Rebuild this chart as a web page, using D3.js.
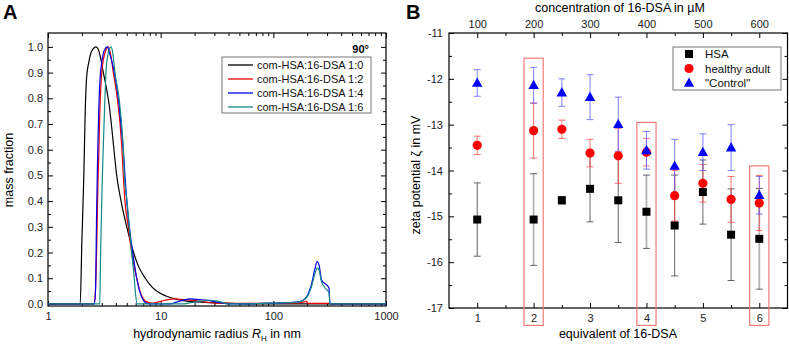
<!DOCTYPE html>
<html>
<head>
<meta charset="utf-8">
<script src="https://cdn.jsdelivr.net/npm/d3@7"></script>
<style>
  body { margin: 0; background: #fff; }
  svg { font-family: "Liberation Sans", Arial, sans-serif; }
  .tick text { font-size: 11px; fill: #222; }
</style>
</head>
<body>
<div class="vis"></div>
<script>
// ---------- panel A : mass fraction vs hydrodynamic radius ----------
const seriesNamesA = ["com-HSA:16-DSA 1:0", "com-HSA:16-DSA 1:2", "com-HSA:16-DSA 1:4", "com-HSA:16-DSA 1:6"];
const seriesColorsA = ["#000000", "#ee0000", "#0000ee", "#138a87"];

// [radius nm, mass fraction]
const curve10 = [[1,0],[1.93,0],[2.0,0.25],[2.08,0.5],[2.14,0.75],[2.2,0.88],[2.3,0.94],[2.42,0.98],[2.55,0.995],[2.67,1.0],
  [2.8,0.99],[2.95,0.95],[3.1,0.9],[3.3,0.84],[3.5,0.77],[3.65,0.7],[3.85,0.6],[4.07,0.5],[4.45,0.4],[5.0,0.3],
  [5.75,0.2],[6.3,0.15],[7.3,0.1],[8.2,0.07],[9.2,0.05],[11.3,0.03],[14,0.018],[17,0.011],[25,0.006],[40,0.003],[60,0],[1000,0]];
const curve12 = [[1,0],[2.55,0],[2.62,0.03],[2.7,0.2],[2.77,0.45],[2.83,0.6],[2.9,0.78],[3.0,0.9],[3.1,0.95],[3.25,0.985],
  [3.43,1.0],[3.6,0.97],[3.8,0.9],[3.97,0.85],[4.12,0.8],[4.36,0.7],[4.53,0.6],[4.66,0.5],[4.82,0.4],[5.16,0.3],
  [5.53,0.2],[6.13,0.1],[6.55,0.05],[7.4,0.01],[8.3,0.003],[9,0.005],[10,0.01],[13,0.02],[15,0.018],[18.5,0.015],
  [24.5,0.008],[32,0.003],[50,0.002],[100,0.002],[170,0.004],[197,0.01],[204,0.002],[318,0.002],[322,0],[1000,0]];
const curve14 = [[1,0],[2.58,0],[2.64,0.05],[2.7,0.35],[2.75,0.55],[2.82,0.75],[2.9,0.88],[3.0,0.94],[3.15,0.985],[3.36,1.0],
  [3.55,0.97],[3.75,0.93],[3.88,0.9],[4.21,0.8],[4.44,0.7],[4.66,0.6],[4.82,0.5],[5.0,0.4],[5.27,0.3],[5.65,0.2],
  [6.13,0.1],[6.5,0.05],[6.9,0.02],[7.4,0.003],[8,0],[12,0],[14,0.008],[16,0.015],[18.2,0.02],[22,0.017],
  [27,0.013],[33,0.006],[40,0],[80,0.002],[100,0.003],[150,0.006],[172,0.009],[197,0.028],[219,0.08],[235,0.14],
  [245,0.165],[255,0.15],[268,0.093],[285,0.08],[297,0.074],[312,0.062],[318,0],[1000,0]];
const curve16 = [[1,0],[2.88,0],[2.93,0.2],[3.0,0.4],[3.05,0.52],[3.1,0.62],[3.2,0.8],[3.27,0.9],[3.4,0.97],[3.62,1.0],
  [3.75,0.98],[3.93,0.9],[4.27,0.8],[4.5,0.7],[4.66,0.6],[4.76,0.5],[5.03,0.4],[5.27,0.3],[5.53,0.2],[5.83,0.1],
  [5.95,0.05],[6.2,0],[15.8,0],[18,0.004],[22,0.01],[26,0.015],[31,0.012],[36,0.005],[39,0],[80,0.002],
  [100,0.003],[150,0.006],[172,0.009],[197,0.025],[219,0.07],[235,0.12],[245,0.14],[255,0.13],[268,0.085],
  [285,0.065],[297,0.055],[312,0.045],[318,0],[1000,0]];
const curvesA = [curve10, curve12, curve14, curve16];

const yTicksA = [0, 0.1, 0.2, 0.3, 0.4, 0.5, 0.6, 0.7, 0.8, 0.9, 1.0];
const xTicksA = [1, 10, 100, 1000];

// ---------- panel B : zeta potential ----------
const equiv = [1, 2, 2.5, 3, 3.5, 4, 4.5, 5, 5.5, 6];
const hsaZeta = [-15.07, -15.07, -14.65, -14.4, -14.65, -14.9, -15.2, -14.47, -15.4, -15.49];
const hsaErr = [0.8, 1.0, 0.08, 0.72, 0.92, 0.8, 1.1, 0.7, 1.0, 1.1];
const adultZeta = [-13.45, -13.13, -13.1, -13.62, -13.68, -13.6, -14.55, -14.28, -14.63, -14.71];
const adultErr = [0.2, 0.6, 0.2, 0.3, 0.6, 0.3, 0.55, 0.41, 0.5, 0.6];
const controlZeta = [-12.09, -12.14, -12.3, -12.4, -12.99, -13.56, -13.9, -13.6, -13.5, -14.54];
const controlErr = [0.29, 0.39, 0.3, 0.49, 0.59, 0.41, 0.58, 0.4, 0.5, 0.41];
const seriesNamesB = ["HSA", "healthy adult", "\"Control\""];
const concTicks = [100, 200, 300, 400, 500, 600];
const yTicksB = [-17, -16, -15, -14, -13, -12, -11];
const boxEquiv = [2, 4, 6];
const boxTop = [-11.55, -12.95, -13.9];

const W = 789, H = 346;
const svg = d3.select(".vis").append("svg").attr("width", W).attr("height", H);

// ================= panel A =================
const xA = d3.scaleLog().domain([1, 1000]).range([48, 386]);
const yA = d3.scaleLinear().domain([-0.008, 1.054]).range([306, 33]);

const gA = svg.append("g");
const minorLog = [];
[1, 10, 100].forEach(d => { for (let k = 2; k <= 9; k++) minorLog.push(d * k); });
const minorYA = yTicksA.slice(0, -1).map(v => v + 0.05);

function axisPair(g, axisFn, scale, major, minor, fmt, pos, pad) {
  g.append("g").attr("transform", pos)
    .call(axisFn(scale).tickValues(major).tickSize(-5).tickPadding(pad).tickFormat(fmt));
  g.append("g").attr("transform", pos)
    .call(axisFn(scale).tickValues(minor).tickSize(-3).tickFormat(""));
}

axisPair(gA, d3.axisBottom, xA, xTicksA, minorLog, d3.format("d"), "translate(0,306)", 6);
axisPair(gA, d3.axisTop, xA, xTicksA, minorLog, "", "translate(0,33)", 3);
axisPair(gA, d3.axisLeft, yA, yTicksA, minorYA, d3.format(".1f"), "translate(48,0)", 5);
axisPair(gA, d3.axisRight, yA, yTicksA, minorYA, "", "translate(386,0)", 3);
gA.selectAll(".domain").remove();
gA.append("rect").attr("x", 48).attr("y", 33).attr("width", 338).attr("height", 273)
  .attr("fill", "none").attr("stroke", "#000").attr("stroke-width", 1.2);

const lineA = d3.line().x(d => xA(d[0])).y(d => yA(d[1])).curve(d3.curveMonotoneX);
gA.append("g")
  .selectAll("path").data(curvesA).enter().append("path")
  .attr("d", lineA)
  .attr("fill", "none")
  .attr("stroke", (d, i) => seriesColorsA[i])
  .attr("stroke-width", 1.2);

// legend A
gA.append("text").attr("x", 369).attr("y", 53).attr("text-anchor", "end")
  .attr("font-size", 11).attr("font-weight", "bold").text("90°");
gA.append("rect").attr("x", 222).attr("y", 57).attr("width", 149).attr("height", 56)
  .attr("fill", "#fff").attr("stroke", "#777").attr("stroke-width", 1);
const legA = gA.selectAll(".legA").data(seriesNamesA).enter().append("g")
  .attr("transform", (d, i) => `translate(0,${65 + i * 14})`);
legA.append("line").attr("x1", 228).attr("x2", 253).attr("y1", 0).attr("y2", 0)
  .attr("stroke", (d, i) => seriesColorsA[i]).attr("stroke-width", 1.3);
legA.append("text").attr("x", 257).attr("y", 4).attr("font-size", 11).attr("fill", "#111").text(d => d);

// titles A
svg.append("text").attr("x", 3).attr("y", 19).attr("font-size", 20).attr("font-weight", "bold").text("A");
svg.append("text").attr("transform", "translate(13,170) rotate(-90)").attr("text-anchor", "middle")
  .attr("font-size", 12.5).text("mass fraction");
const xt = svg.append("text").attr("x", 217).attr("y", 338).attr("text-anchor", "middle").attr("font-size", 12.5);
xt.append("tspan").text("hydrodynamic radius ");
xt.append("tspan").attr("font-style", "italic").text("R");
xt.append("tspan").attr("font-size", 8).attr("dy", 3).text("H");
xt.append("tspan").attr("dy", -3).text(" in nm");

// ================= panel B =================
const xB = d3.scaleLinear().domain([0.5, 6.5]).range([449, 787.5]);
const xConc = d3.scaleLinear().domain([50, 650]).range([449, 787.5]);
const yB = d3.scaleLinear().domain([-17, -11]).range([308, 33]);
const gB = svg.append("g");

const minorXB = [1.5, 2.5, 3.5, 4.5, 5.5];
const minorConc = [150, 250, 350, 450, 550];
const minorYB = yTicksB.slice(0, -1).map(v => v + 0.5);
axisPair(gB, d3.axisBottom, xB, [1, 2, 3, 4, 5, 6], minorXB, d3.format("d"), "translate(0,308)", 6);
axisPair(gB, d3.axisTop, xConc, concTicks, minorConc, d3.format("d"), "translate(0,33)", 5);
axisPair(gB, d3.axisLeft, yB, yTicksB, minorYB, d => d3.format("d")(d).replace("−", "-"), "translate(449,0)", 6);
axisPair(gB, d3.axisRight, yB, yTicksB, minorYB, "", "translate(787.5,0)", 3);
gB.selectAll(".domain").remove();
gB.append("rect").attr("x", 449).attr("y", 33).attr("width", 338.5).attr("height", 275)
  .attr("fill", "none").attr("stroke", "#000").attr("stroke-width", 1.2);

// highlight boxes
gB.selectAll(".hbox").data(boxEquiv).enter().append("rect")
  .attr("x", d => xB(d - 0.17))
  .attr("y", (d, i) => yB(boxTop[i]))
  .attr("width", xB(0.84) - xB(0.5))
  .attr("height", (d, i) => yB(-17.38) - yB(boxTop[i]))
  .attr("fill", "none").attr("stroke", "#f47a7a").attr("stroke-width", 1.2);

const seriesB = [
  { vals: hsaZeta, err: hsaErr, color: "#000", errColor: "#333", shape: "square" },
  { vals: adultZeta, err: adultErr, color: "#ff0000", errColor: "#f44", shape: "circle" },
  { vals: controlZeta, err: controlErr, color: "#0000ff", errColor: "#55f", shape: "triangle" }
];

function drawMarker(g, shape, color) {
  if (shape === "square") g.append("rect").attr("x", -4).attr("y", -4).attr("width", 8).attr("height", 8).attr("fill", color);
  if (shape === "circle") g.append("circle").attr("r", 4.6).attr("fill", color);
  if (shape === "triangle") g.append("path").attr("d", "M0,-5.5L5.2,3.8L-5.2,3.8Z").attr("fill", color);
}

seriesB.forEach(s => {
  const eg = gB.append("g").attr("stroke", s.errColor).attr("stroke-opacity", 0.75).attr("stroke-width", 1);
  equiv.forEach((e, i) => {
    const x = xB(e), y1 = yB(s.vals[i] + s.err[i]), y2 = yB(s.vals[i] - s.err[i]);
    const wide = s.shape === "square" && boxEquiv.includes(e);
    eg.append("line").attr("x1", x).attr("x2", x).attr("y1", y1).attr("y2", y2)
      .attr("stroke-width", wide ? 1.8 : 1).attr("stroke", wide ? "#999" : null);
    eg.append("line").attr("x1", x - 3.5).attr("x2", x + 3.5).attr("y1", y1).attr("y2", y1);
    eg.append("line").attr("x1", x - 3.5).attr("x2", x + 3.5).attr("y1", y2).attr("y2", y2);
  });
});
seriesB.forEach(s => {
  equiv.forEach((e, i) => {
    const m = gB.append("g").attr("transform", `translate(${xB(e)},${yB(s.vals[i])})`);
    drawMarker(m, s.shape, s.color);
  });
});

// legend B
gB.append("rect").attr("x", 673).attr("y", 47).attr("width", 108).attr("height", 43)
  .attr("fill", "#fff").attr("stroke", "#777").attr("stroke-width", 1);
seriesNamesB.forEach((name, i) => {
  const y = 54 + i * 14.5;
  const m = gB.append("g").attr("transform", `translate(689,${y})`);
  drawMarker(m, seriesB[i].shape, seriesB[i].color);
  gB.append("text").attr("x", 705).attr("y", y + 4).attr("font-size", 11.5).attr("fill", "#111").text(name);
});

// titles B
svg.append("text").attr("x", 406).attr("y", 19).attr("font-size", 20).attr("font-weight", "bold").text("B");
svg.append("text").attr("x", 620).attr("y", 12).attr("text-anchor", "middle").attr("font-size", 12.5)
  .text("concentration of 16-DSA in µM");
svg.append("text").attr("x", 618).attr("y", 338).attr("text-anchor", "middle").attr("font-size", 12.5)
  .text("equivalent of 16-DSA");
svg.append("text").attr("transform", "translate(420,175) rotate(-90)").attr("text-anchor", "middle")
  .attr("font-size", 12.5).text("zeta potential ζ in mV");
</script>
</body>
</html>
